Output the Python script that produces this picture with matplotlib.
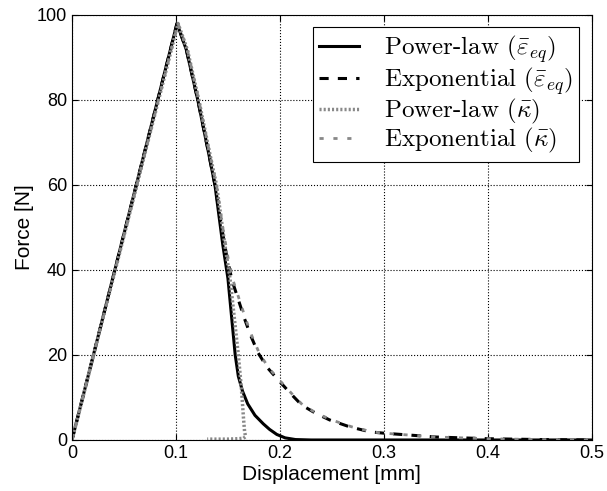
import matplotlib
matplotlib.use('Agg')
import matplotlib.pyplot as plt

plt.rcParams['font.family'] = ['Liberation Sans', 'DejaVu Sans']
plt.rcParams['mathtext.fontset'] = 'cm'

# load-displacement curves (displacement in mm, force in N)
disp_pl_eps = [0, 0.101, 0.110, 0.121, 0.131, 0.1375, 0.145, 0.150, 0.157, 0.160, 0.164, 0.169,
               0.176, 0.184, 0.190, 0.197, 0.205, 0.215, 0.23, 0.5]
force_pl_eps = [0, 98, 91.8, 80, 68, 60, 46, 38, 20, 15, 11.5, 8.5, 5.8, 3.8, 2.5, 1.3, 0.5, 0.1, 0, 0]

disp_exp_eps = [0, 0.101, 0.110, 0.121, 0.131, 0.1375, 0.144, 0.149, 0.154, 0.160, 0.166, 0.172,
                0.179, 0.188, 0.197, 0.21, 0.221, 0.235, 0.248, 0.267, 0.287, 0.30, 0.35, 0.40,
                0.45, 0.5]
force_exp_eps = [0, 98, 91.8, 80, 68, 60, 50, 43, 37.5, 33, 28.5, 24.5, 20.5, 17, 14.5, 11, 8.2,
                 6.2, 4.7, 3.1, 1.9, 1.6, 0.7, 0.3, 0.1, 0]

disp_pl_kap = [0, 0.102, 0.111, 0.122, 0.132, 0.139, 0.147, 0.152, 0.160, 0.163, 0.165, 0.166,
               0.167, 0.165, 0.16, 0.15, 0.13]
force_pl_kap = [0, 98, 91.8, 80, 68, 60, 46, 38, 20, 12, 5, 2, 0.8, 0.4, 0.3, 0.2, 0.2]

disp_exp_kap = [0, 0.102, 0.111, 0.122, 0.132, 0.139, 0.145, 0.150, 0.155, 0.161, 0.167, 0.173,
                0.180, 0.189, 0.198, 0.211, 0.222, 0.236, 0.250, 0.269, 0.289, 0.30, 0.35, 0.40,
                0.45, 0.5]
force_exp_kap = [0, 98, 91.8, 80, 68, 60, 50, 43, 37.5, 33, 28.5, 24.5, 20.5, 17, 14.5, 11, 8.2,
                 6.2, 4.7, 3.1, 1.9, 1.6, 0.7, 0.3, 0.1, 0]

labels = [r'Power-law ($\bar{\varepsilon}_{eq}$)', r'Exponential ($\bar{\varepsilon}_{eq}$)',
          r'Power-law ($\bar{\kappa}$)', r'Exponential ($\bar{\kappa}$)']

fig = plt.figure(figsize=(6.07, 4.91), dpi=100)
ax = fig.add_axes([0.1186, 0.1039, 0.8564, 0.8656])

ax.plot(disp_pl_eps, force_pl_eps, color='black', lw=2.2, ls='-', label=labels[0])
ax.plot(disp_exp_eps, force_exp_eps, color='black', lw=2.2, ls=(0, (3, 3)), label=labels[1])
ax.plot(disp_pl_kap, force_pl_kap, color='#888888', lw=2.5, ls=(0, (0.6, 0.6)), label=labels[2])
ax.plot(disp_exp_kap, force_exp_kap, color='#888888', lw=2.0, ls=(0, (1.5, 3.5)), label=labels[3])

ax.set_xlim(0, 0.5)
ax.set_ylim(0, 100)
ax.set_xticks([0, 0.1, 0.2, 0.3, 0.4, 0.5])
ax.set_xticklabels(['0', '0.1', '0.2', '0.3', '0.4', '0.5'])
ax.set_yticks([0, 20, 40, 60, 80, 100])
ax.grid(True, color='black', ls=':', lw=0.8)
ax.tick_params(direction='in', top=True, right=True, labelsize=13, length=4)
ax.set_xlabel('Displacement [mm]', fontsize=15, labelpad=2)
ax.set_ylabel('Force [N]', fontsize=15, labelpad=2)

leg = ax.legend(loc='upper right', prop={'family': 'cmr10', 'size': 18}, fancybox=False,
                edgecolor='black', framealpha=1, handlelength=1.6, handletextpad=1.0,
                borderaxespad=0.5, labelspacing=0.0, borderpad=0.25)
leg.get_frame().set_linewidth(0.8)

fig.savefig('out.png', dpi=100)
